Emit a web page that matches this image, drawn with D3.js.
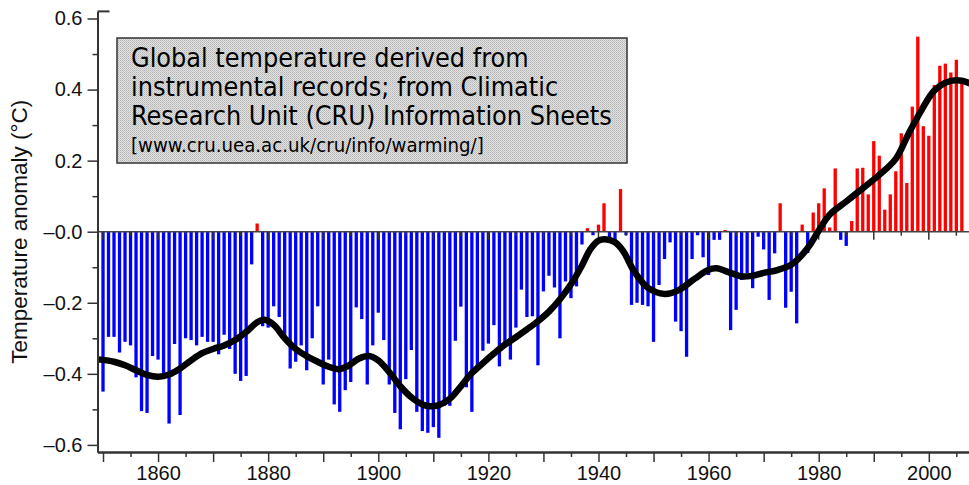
<!DOCTYPE html>
<html>
<head>
<meta charset="utf-8">
<script src="https://cdn.jsdelivr.net/npm/d3@7"></script>
<style>
  html, body { margin: 0; padding: 0; background: #fff; }
  svg { display: block; }
</style>
</head>
<body>
<svg id="chart" width="969" height="485"></svg>
<script>
// Annual global temperature anomalies (°C), 1850–2006
const years = d3.range(1850, 2007);
const anomalies = [
  -0.45, -0.296, -0.296, -0.34, -0.31, -0.32, -0.41, -0.505, -0.51, -0.35,      // 1850s
  -0.36, -0.41, -0.54, -0.316, -0.516, -0.30, -0.305, -0.32, -0.296, -0.31,     // 1860s
  -0.31, -0.345, -0.29, -0.33, -0.40, -0.42, -0.406, -0.092, 0.023, -0.266,     // 1870s
  -0.27, -0.21, -0.24, -0.30, -0.385, -0.366, -0.32, -0.39, -0.30, -0.21,       // 1880s
  -0.43, -0.36, -0.486, -0.507, -0.446, -0.423, -0.213, -0.246, -0.43, -0.32,   // 1890s
  -0.228, -0.305, -0.43, -0.51, -0.556, -0.415, -0.333, -0.507, -0.561, -0.566, // 1900s
  -0.55, -0.58, -0.49, -0.49, -0.307, -0.211, -0.438, -0.507, -0.39, -0.335,    // 1910s
  -0.315, -0.263, -0.379, -0.32, -0.36, -0.27, -0.163, -0.24, -0.238, -0.376,   // 1920s
  -0.168, -0.124, -0.157, -0.30, -0.14, -0.187, -0.154, -0.036, 0.01, -0.01,    // 1930s
  0.02, 0.08, -0.02, -0.03, 0.12, -0.01, -0.206, -0.20, -0.206, -0.21,          // 1940s
  -0.31, -0.15, -0.077, -0.03, -0.253, -0.28, -0.352, -0.077, -0.01, -0.072,    // 1950s
  -0.122, -0.023, -0.023, 0.005, -0.277, -0.22, -0.136, -0.117, -0.159, -0.014, // 1960s
  -0.05, -0.192, -0.061, 0.08, -0.214, -0.169, -0.258, 0.02, -0.06, 0.054,      // 1970s
  0.08, 0.122, 0.012, 0.178, -0.023, -0.04, 0.03, 0.178, 0.18, 0.105,           // 1980s
  0.255, 0.214, 0.062, 0.105, 0.17, 0.277, 0.137, 0.352, 0.549, 0.297,          // 1990s
  0.27, 0.413, 0.467, 0.473, 0.448, 0.484, 0.42                                 // 2000s
];

// Smoothed curve (decadal filter), sampled
const smoothYears = [
  1849.5, 1852, 1854, 1856, 1858, 1860, 1862, 1864, 1866, 1868, 1870, 1872, 1874, 1876, 1878, 1879.3,
  1881, 1883, 1885, 1887, 1889, 1891, 1892.8, 1894.5, 1896.5, 1898.3, 1900, 1902, 1904, 1906, 1908,
  1909.5, 1911, 1913, 1915, 1917, 1919, 1921, 1923, 1925, 1927, 1929, 1931, 1933, 1935, 1937, 1938.5,
  1940, 1941.2, 1943, 1944.5, 1946.5, 1949, 1952, 1954.5, 1957.5, 1960, 1961.5, 1963.5, 1966, 1968,
  1970, 1972.5, 1975, 1977, 1978.5, 1980, 1982, 1985, 1988, 1991, 1994, 1996.3, 1998.7, 2001, 2003.5,
  2006, 2007.3
];
const smoothValues = [
  -0.36, -0.366, -0.376, -0.39, -0.403, -0.408, -0.402, -0.385, -0.362, -0.342, -0.33, -0.32, -0.305, -0.282, -0.255, -0.248,
  -0.262, -0.30, -0.33, -0.35, -0.366, -0.38, -0.387, -0.378, -0.357, -0.35, -0.362, -0.395, -0.435, -0.466, -0.486,
  -0.491, -0.488, -0.47, -0.435, -0.398, -0.37, -0.343, -0.318, -0.297, -0.275, -0.252, -0.225, -0.19, -0.148, -0.095, -0.05,
  -0.025, -0.021, -0.03, -0.055, -0.112, -0.158, -0.175, -0.165, -0.132, -0.107, -0.103, -0.113, -0.126, -0.124,
  -0.116, -0.108, -0.093, -0.065, -0.035, 0.003, 0.048, 0.085, 0.122, 0.16, 0.205, 0.275, 0.343, 0.397, 0.422,
  0.425, 0.418
];

const xMajorTicks = d3.range(1850, 2007, 10);
const xMinorTicks = d3.range(1855, 2007, 10);
const xLabelYears = [1860, 1880, 1900, 1920, 1940, 1960, 1980, 2000];
const yMajorTicks = [0.6, 0.4, 0.2, 0, -0.2, -0.4, -0.6];
const yMinorTicks = [0.5, 0.3, 0.1, -0.1, -0.3, -0.5];

const titleLines = [
  "Global temperature derived from",
  "instrumental records; from Climatic",
  "Research Unit (CRU) Information Sheets"
];
const sourceLine = "[www.cru.uea.ac.uk/cru/info/warming/]";
const axisTitle = "Temperature anomaly (\u00B0C)";

const svg = d3.select("#chart");
const plotLeft = 97.5, plotRight = 969, plotTop = 11.4, plotBottom = 452;

const x = d3.scaleLinear().domain([1849, 2007.3]).range([plotLeft, plotRight]);
const y = d3.scaleLinear().domain([-0.62, 0.62]).range([plotBottom, plotTop]);

const axisColor = "#333";
const tickFont = "'Liberation Sans', Arial, Helvetica, sans-serif";

// Stippled fill for the note box
const defs = svg.append("defs");
const pat = defs.append("pattern")
  .attr("id", "stipple").attr("width", 2).attr("height", 2)
  .attr("patternUnits", "userSpaceOnUse");
pat.append("rect").attr("width", 2).attr("height", 2).attr("fill", "#e2e2e2");
pat.append("rect").attr("width", 1).attr("height", 1).attr("fill", "#b4b4b4");
pat.append("rect").attr("x", 1).attr("y", 1).attr("width", 1).attr("height", 1).attr("fill", "#c4c4c4");

// Bars
const barW = 3.3;
svg.append("g").selectAll("rect")
  .data(years.map((yr, i) => ({ yr, v: anomalies[i] })))
  .join("rect")
  .attr("x", d => x(d.yr) - barW / 2)
  .attr("width", barW)
  .attr("y", d => y(Math.max(0, d.v)))
  .attr("height", d => Math.abs(y(d.v) - y(0)))
  .attr("fill", d => d.v >= 0 ? "#ff0000" : "#0000ff");

// Zero line with year ticks hanging below it
const zero = svg.append("g").attr("transform", `translate(0,${y(0)})`);
zero.append("line").attr("x1", plotLeft).attr("x2", plotRight).attr("stroke", "#444").attr("stroke-width", 1.5);
zero.selectAll("line.maj").data(xMajorTicks).join("line").attr("class", "maj")
  .attr("x1", d => x(d)).attr("x2", d => x(d)).attr("y1", 0).attr("y2", 8)
  .attr("stroke", "#333").attr("stroke-width", 1.5);
zero.selectAll("line.min").data(xMinorTicks).join("line").attr("class", "min")
  .attr("x1", d => x(d)).attr("x2", d => x(d)).attr("y1", 0).attr("y2", 4)
  .attr("stroke", "#333").attr("stroke-width", 1.5);

// Smoothed curve
const line = d3.line().x(d => x(d[0])).y(d => y(d[1])).curve(d3.curveCatmullRom.alpha(0.5));
svg.append("path")
  .datum(smoothYears.map((yr, i) => [yr, smoothValues[i]]))
  .attr("d", line)
  .attr("fill", "none").attr("stroke", "#000").attr("stroke-width", 6.5)
  .attr("stroke-linecap", "round").attr("stroke-linejoin", "round");

// Axes
function styleAxis(g) {
  g.selectAll("path.domain").attr("stroke", axisColor).attr("stroke-width", 2);
  g.selectAll(".tick line").attr("stroke", axisColor).attr("stroke-width", 1.5);
  g.selectAll(".tick text").attr("fill", "#111").style("font-family", tickFont).style("font-size", "20px");
}
const fmt = d => {
  const s = Math.abs(d).toFixed(1);
  return d <= 0 ? "\u2013" + s : s;
};

const yAxis = svg.append("g").attr("transform", `translate(${plotLeft},0)`)
  .call(d3.axisLeft(y).tickValues(yMajorTicks).tickFormat(fmt).tickSize(10).tickSizeOuter(0).tickPadding(5));
styleAxis(yAxis);
const yMinor = svg.append("g").attr("transform", `translate(${plotLeft},0)`)
  .call(d3.axisLeft(y).tickValues(yMinorTicks).tickFormat("").tickSize(5).tickSizeOuter(0));
styleAxis(yMinor);

const xAxis = svg.append("g").attr("transform", `translate(0,${plotBottom})`)
  .call(d3.axisBottom(x).tickValues(xMajorTicks)
    .tickFormat(d => xLabelYears.includes(d) ? String(d) : "")
    .tickSize(10).tickSizeOuter(0).tickPadding(4));
styleAxis(xAxis);
const xMinor = svg.append("g").attr("transform", `translate(0,${plotBottom})`)
  .call(d3.axisBottom(x).tickValues(xMinorTicks).tickFormat("").tickSize(5).tickSizeOuter(0));
styleAxis(xMinor);

// Cap at the top of the vertical axis
svg.append("line").attr("x1", plotLeft).attr("x2", plotLeft + 12).attr("y1", plotTop).attr("y2", plotTop)
  .attr("stroke", axisColor).attr("stroke-width", 2);

// Axis title
svg.append("text")
  .attr("transform", `translate(27,${y(0)}) rotate(-90)`)
  .attr("text-anchor", "middle")
  .style("font-family", tickFont).style("font-size", "22.5px").attr("fill", "#111")
  .text(axisTitle);

// Note box
const box = { x: 117, y: 38, w: 510, h: 125 };
svg.append("rect").attr("x", box.x).attr("y", box.y).attr("width", box.w).attr("height", box.h)
  .attr("fill", "url(#stipple)").attr("stroke", "#333").attr("stroke-width", 1.5);

const boxFont = "'DejaVu Sans Condensed', 'DejaVu Sans', Tahoma, sans-serif";
const tg = svg.append("g").style("font-family", boxFont).attr("fill", "#000");
const titleTexts = tg.selectAll("text.t").data(titleLines).join("text").attr("class", "t")
  .attr("x", 131).attr("y", (d, i) => 67 + i * 29)
  .style("font-size", "22px").text(d => d);
// size the heading so its longest line spans the box
const longest = titleTexts.nodes()[2];
const fs = 22 * 481 / longest.getComputedTextLength();
titleTexts.style("font-size", fs + "px");
const src = tg.append("text").attr("x", 131).attr("y", 152).style("font-size", "17px").text(sourceLine);
const fs2 = 17 * 353 / src.node().getComputedTextLength();
src.style("font-size", fs2 + "px");
</script>
</body>
</html>
